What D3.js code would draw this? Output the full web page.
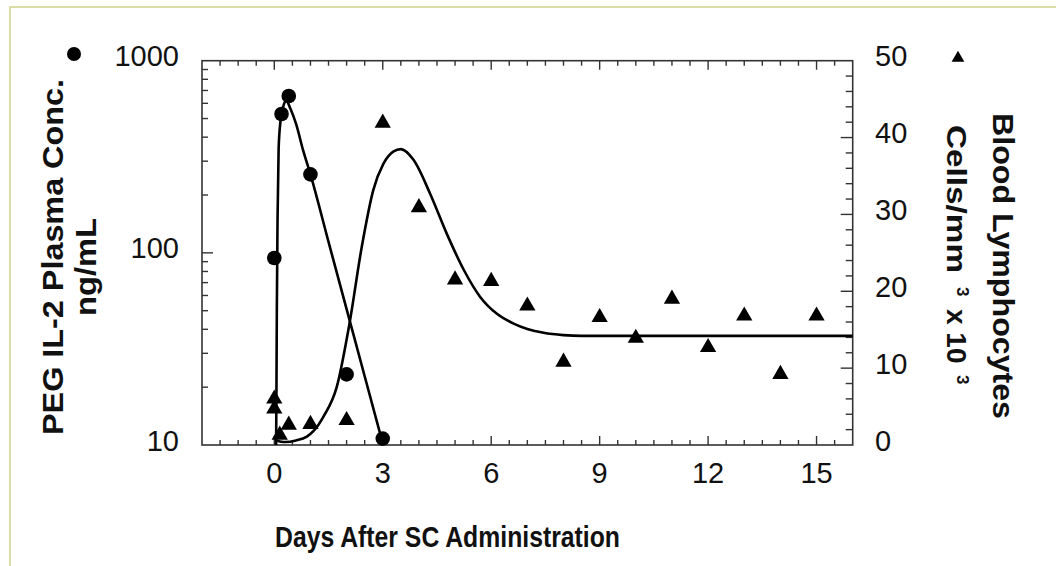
<!DOCTYPE html>
<html>
<head>
<meta charset="utf-8">
<script src="https://cdn.jsdelivr.net/npm/d3@7"></script>
<style>
  body { margin: 0; background: #fff; }
  text { font-family: "Liberation Sans", Arial, sans-serif; fill: #111; }
</style>
</head>
<body>
<script>
// PEG IL-2 plasma concentration (ng/mL), circles, left log axis
const pkDays = [0, 0.2, 0.4, 1, 2, 3];
const pkConc = [94, 528, 655, 256, 23.3, 10.8];

// blood lymphocytes (cells/mm3 x 10^3), triangles, right axis
const lymDays = [0, 0, 0.15, 0.4, 1, 2, 3, 4, 5, 6, 7, 8, 9, 10, 11, 12, 13, 14, 15];
const lymCells = [6.3, 5.0, 1.6, 2.9, 3.0, 3.5, 42.2, 31.2, 21.8, 21.6, 18.4, 11.1, 16.9, 14.2, 19.3, 13.0, 17.1, 9.5, 17.1];

// fitted curves
const pkFitDays = [0.05, 0.06, 0.07, 0.09, 0.12, 0.18, 0.25, 0.33, 0.45, 0.6, 0.8, 1.0, 1.5, 2.0, 2.5, 3.0];
const pkFitConc = [10, 20, 50, 150, 350, 500, 580, 620, 560, 470, 340, 256, 114, 51, 22.8, 10.2];
const lymFitDays = [0.05, 0.3, 0.6, 0.9, 1.1, 1.36, 1.73, 2.08, 2.42, 2.74, 3.02, 3.3, 3.5, 3.85, 4.31, 4.77, 5.24, 5.69, 6.15, 6.62, 7.0, 7.45, 8.0, 8.5, 16];
const lymFitCells = [0.6, 0.4, 0.6, 1.1, 1.9, 3.7, 7.6, 15.8, 25.8, 33.2, 36.6, 38.2, 38.5, 37.1, 32.7, 27.5, 22.8, 19.3, 17.1, 15.8, 15.1, 14.6, 14.3, 14.2, 14.2];

const xTicks = [0, 3, 6, 9, 12, 15];
const leftTicks = [10, 100, 1000];
const rightTicks = [0, 10, 20, 30, 40, 50];

const W = 1056, H = 566;
const L = 202, R = 852.7, T = 60.7, B = 445;

const svg = d3.select('body').append('svg')
  .attr('width', W).attr('height', H);

// outer page border
svg.append('rect')
  .attr('x', 10).attr('y', 7).attr('width', 1100).attr('height', 600)
  .attr('fill', 'none').attr('stroke', '#d2d28a').attr('stroke-width', 1.5);

const x = d3.scaleLinear().domain([-2, 16]).range([L, R]);
const yL = d3.scaleLog().domain([10, 1000]).range([B, T]);
const yR = d3.scaleLinear().domain([0, 50]).range([B, T]);

const g = svg.append('g');

// ticks (all pointing inward)
const xMinor = d3.range(-1.5, 16, 0.5).filter(v => v % 3 !== 0);
function tickLines(sel, vals, fn) {
  sel.selectAll(null).data(vals).enter().append('line')
    .each(function (d) { d3.select(this).attr('x1', fn(d)[0]).attr('y1', fn(d)[1]).attr('x2', fn(d)[2]).attr('y2', fn(d)[3]); })
    .attr('stroke', '#333').attr('stroke-width', 1.4);
}
tickLines(g, xMinor, d => [x(d), B, x(d), B - 5]);
tickLines(g, xMinor, d => [x(d), T, x(d), T + 5]);
tickLines(g, xTicks, d => [x(d), B, x(d), B - 9]);
tickLines(g, xTicks, d => [x(d), T, x(d), T + 9]);

const logMinor = [];
[10, 100].forEach(dec => d3.range(2, 10).forEach(k => logMinor.push(dec * k)));
tickLines(g, logMinor, d => [L, yL(d), L + 6, yL(d)]);
tickLines(g, [100], d => [L, yL(d), L + 11, yL(d)]);

const rMinor = d3.range(2, 50, 2).filter(v => v % 10 !== 0);
tickLines(g, rMinor, d => [R, yR(d), R - 7, yR(d)]);
tickLines(g, rightTicks.slice(1, -1), d => [R, yR(d), R - 12, yR(d)]);

// frame
g.append('rect')
  .attr('x', L).attr('y', T).attr('width', R - L).attr('height', B - T)
  .attr('fill', 'none').attr('stroke', '#333').attr('stroke-width', 1.6);

// tick labels
g.selectAll('.xl').data(xTicks).enter().append('text')
  .attr('x', d => x(d)).attr('y', 483).attr('text-anchor', 'middle')
  .attr('font-size', 29).text(d => d);
g.selectAll('.yl').data(leftTicks).enter().append('text')
  .attr('x', 179).attr('y', d => yL(d) + 5.5).attr('text-anchor', 'end')
  .attr('font-size', 29).text(d => d);
g.selectAll('.yr').data(rightTicks).enter().append('text')
  .attr('x', 875).attr('y', d => yR(d) + 5.5).attr('text-anchor', 'start')
  .attr('font-size', 29).text(d => d);

// fitted curves
const pkLine = d3.line().x(d => x(d[0])).y(d => yL(d[1])).curve(d3.curveMonotoneX);
const lymLine = d3.line().x(d => x(d[0])).y(d => yR(d[1])).curve(d3.curveMonotoneX);
const plot = svg.append('g');
plot.append('path').datum(d3.zip(pkFitDays, pkFitConc)).attr('d', pkLine)
  .attr('fill', 'none').attr('stroke', '#000').attr('stroke-width', 2.6);
plot.append('path').datum(d3.zip(lymFitDays, lymFitCells)).attr('d', lymLine)
  .attr('fill', 'none').attr('stroke', '#000').attr('stroke-width', 2.6);

// markers
plot.selectAll('.pk').data(d3.zip(pkDays, pkConc)).enter().append('circle')
  .attr('cx', d => x(d[0])).attr('cy', d => yL(d[1])).attr('r', 7.3).attr('fill', '#000');
const tri = d3.symbol(d3.symbolTriangle, 115);
plot.selectAll('.ly').data(d3.zip(lymDays, lymCells)).enter().append('path')
  .attr('d', tri).attr('fill', '#000')
  .attr('transform', d => `translate(${x(d[0])},${yR(d[1]) + 2.3})`);

// legend symbols next to axis tops
svg.append('circle').attr('cx', 74).attr('cy', 54).attr('r', 7).attr('fill', '#000');
svg.append('path').attr('d', d3.symbol(d3.symbolTriangle, 70)).attr('fill', '#000')
  .attr('transform', 'translate(958,58)');

// axis titles
svg.append('text').attr('x', 275).attr('y', 547).attr('font-size', 30).attr('font-weight', 'bold')
  .attr('textLength', 345).attr('lengthAdjust', 'spacingAndGlyphs')
  .text('Days After SC Administration');

svg.append('text').attr('transform', 'translate(63,257) rotate(-90)')
  .attr('text-anchor', 'middle').attr('font-size', 30).attr('font-weight', 'bold')
  .attr('textLength', 356).attr('lengthAdjust', 'spacingAndGlyphs')
  .text('PEG IL-2 Plasma Conc.');
svg.append('text').attr('transform', 'translate(96,267) rotate(-90)')
  .attr('text-anchor', 'middle').attr('font-size', 30).attr('font-weight', 'bold')
  .attr('textLength', 98).attr('lengthAdjust', 'spacingAndGlyphs')
  .text('ng/mL');

svg.append('text').attr('transform', 'translate(993,266) rotate(90)')
  .attr('text-anchor', 'middle').attr('font-size', 29).attr('font-weight', 'bold')
  .attr('textLength', 306).attr('lengthAdjust', 'spacingAndGlyphs')
  .text('Blood Lymphocytes');

const r2 = svg.append('g').attr('transform', 'translate(947,0) rotate(90)');
r2.append('text').attr('x', 125).attr('y', 0).attr('font-size', 28).attr('font-weight', 'bold')
  .attr('textLength', 148).attr('lengthAdjust', 'spacingAndGlyphs').text('Cells/mm');
r2.append('text').attr('x', 287).attr('y', -10).attr('font-size', 17).attr('font-weight', 'bold').text('3');
r2.append('text').attr('x', 309).attr('y', 0).attr('font-size', 28).attr('font-weight', 'bold').text('x 10');
r2.append('text').attr('x', 375).attr('y', -10).attr('font-size', 17).attr('font-weight', 'bold').text('3');
</script>
</body>
</html>
